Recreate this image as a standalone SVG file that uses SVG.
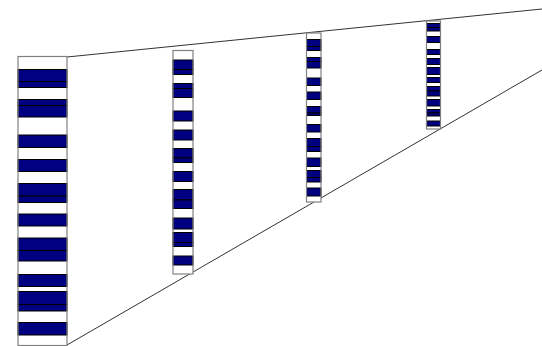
<svg xmlns="http://www.w3.org/2000/svg" width="542" height="346" viewBox="0 0 542 346">
<style>
.b{fill:#000080;stroke:#000;stroke-width:1}
.o{fill:none;stroke:#808080;stroke-width:1.2}
.bg{fill:#fff}
.l{stroke:#333;stroke-width:1;fill:none}
</style>
<rect width="542" height="346" fill="#fff"/>
<g id="connectors">
<line class="l" x1="67" y1="57" x2="542" y2="9"/>
<line class="l" x1="67" y1="345" x2="542" y2="70"/>
</g>
<g id="column1">
<rect class="bg" x="18" y="56.5" width="49" height="289"/>
<rect class="b" x="18" y="69.5" width="49" height="12"/>
<rect class="b" x="18" y="81.5" width="49" height="6"/>
<rect class="b" x="18" y="99.5" width="49" height="6"/>
<rect class="b" x="18" y="105.5" width="49" height="11.5"/>
<rect class="b" x="18" y="135" width="49" height="12.5"/>
<rect class="b" x="18" y="159.5" width="49" height="12"/>
<rect class="b" x="18" y="183.5" width="49" height="12.5"/>
<rect class="b" x="18" y="196" width="49" height="6.5"/>
<rect class="b" x="18" y="214" width="49" height="12"/>
<rect class="b" x="18" y="238" width="49" height="12.5"/>
<rect class="b" x="18" y="250.5" width="49" height="10.5"/>
<rect class="b" x="18" y="274.5" width="49" height="12"/>
<rect class="b" x="18" y="291.5" width="49" height="13"/>
<rect class="b" x="18" y="304.5" width="49" height="6.5"/>
<rect class="b" x="18" y="322.5" width="49" height="12.5"/>
<rect class="o" x="18" y="56.5" width="49" height="289"/>
</g>
<g id="column2">
<rect class="bg" x="173" y="50.5" width="20" height="223.5"/>
<rect class="b" x="173" y="60" width="20" height="9.5"/>
<rect class="b" x="173" y="69.5" width="20" height="5"/>
<rect class="b" x="173" y="83.5" width="20" height="5"/>
<rect class="b" x="173" y="88.5" width="20" height="9"/>
<rect class="b" x="173" y="111" width="20" height="10"/>
<rect class="b" x="173" y="130" width="20" height="10"/>
<rect class="b" x="173" y="148.5" width="20" height="9.5"/>
<rect class="b" x="173" y="158" width="20" height="4.5"/>
<rect class="b" x="173" y="171.5" width="20" height="10"/>
<rect class="b" x="173" y="189.5" width="20" height="10.5"/>
<rect class="b" x="173" y="200" width="20" height="8.5"/>
<rect class="b" x="173" y="218" width="20" height="11"/>
<rect class="b" x="173" y="232.5" width="20" height="10"/>
<rect class="b" x="173" y="242.5" width="20" height="4"/>
<rect class="b" x="173" y="256" width="20" height="9"/>
<rect class="o" x="173" y="50.5" width="20" height="223.5"/>
</g>
<g id="column3">
<rect class="bg" x="306.5" y="33" width="14.5" height="169"/>
<rect class="b" x="306.5" y="39.5" width="14.5" height="7"/>
<rect class="b" x="306.5" y="46.5" width="14.5" height="4"/>
<rect class="b" x="306.5" y="57.5" width="14.5" height="4"/>
<rect class="b" x="306.5" y="61.5" width="14.5" height="6.5"/>
<rect class="b" x="306.5" y="78" width="14.5" height="7.5"/>
<rect class="b" x="306.5" y="92" width="14.5" height="7.5"/>
<rect class="b" x="306.5" y="106.5" width="14.5" height="6.5"/>
<rect class="b" x="306.5" y="113" width="14.5" height="2.5"/>
<rect class="b" x="306.5" y="124.5" width="14.5" height="7.5"/>
<rect class="b" x="306.5" y="138.5" width="14.5" height="8"/>
<rect class="b" x="306.5" y="146.5" width="14.5" height="5"/>
<rect class="b" x="306.5" y="158" width="14.5" height="8.5"/>
<rect class="b" x="306.5" y="170.5" width="14.5" height="7"/>
<rect class="b" x="306.5" y="177.5" width="14.5" height="4.5"/>
<rect class="b" x="306.5" y="188" width="14.5" height="8"/>
<rect class="o" x="306.5" y="33" width="14.5" height="169"/>
</g>
<g id="column4">
<rect class="bg" x="426.5" y="21" width="14" height="108"/>
<rect class="b" x="426.5" y="23.5" width="14" height="4"/>
<rect class="b" x="426.5" y="27.5" width="14" height="3.5"/>
<rect class="b" x="426.5" y="36.5" width="14" height="6"/>
<rect class="b" x="426.5" y="49.5" width="14" height="5"/>
<rect class="b" x="426.5" y="58.5" width="14" height="6"/>
<rect class="b" x="426.5" y="67.5" width="14" height="7"/>
<rect class="b" x="426.5" y="77.5" width="14" height="5"/>
<rect class="b" x="426.5" y="86.5" width="14" height="4.5"/>
<rect class="b" x="426.5" y="91" width="14" height="5"/>
<rect class="b" x="426.5" y="99.5" width="14" height="6.5"/>
<rect class="b" x="426.5" y="109.5" width="14" height="3.5"/>
<rect class="b" x="426.5" y="113" width="14" height="3"/>
<rect class="b" x="426.5" y="121" width="14" height="5"/>
<rect class="o" x="426.5" y="21" width="14" height="108"/>
</g>
</svg>
